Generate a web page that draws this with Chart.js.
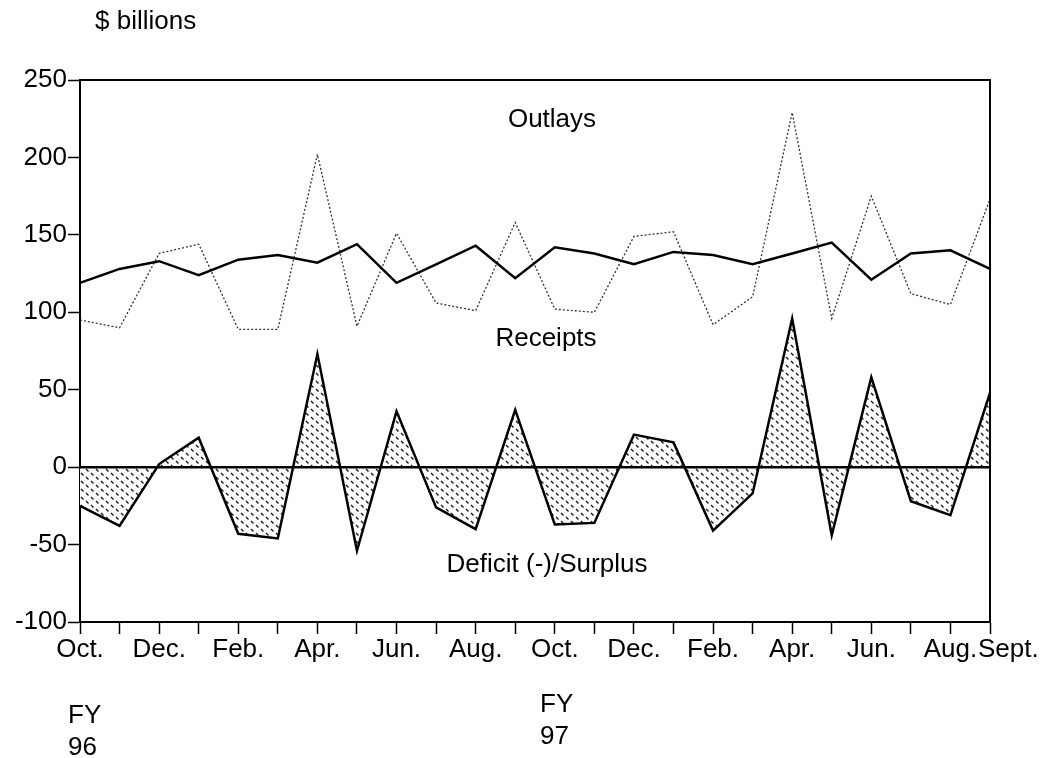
<!DOCTYPE html>
<html>
<head>
<meta charset="utf-8">
<script src="https://cdn.jsdelivr.net/npm/chart.js@4"></script>
<style>
  body { margin: 0; background: #fff; }
  #wrap { width: 1042px; height: 758px; position: relative; }
</style>
</head>
<body>
<div id="wrap"><canvas id="budgetChart"></canvas></div>
<script>
// months, Oct FY96 .. Sept FY97
const months = ['Oct.', 'Nov.', 'Dec.', 'Jan.', 'Feb.', 'Mar.', 'Apr.', 'May', 'Jun.', 'Jul.', 'Aug.', 'Sept.',
                'Oct.', 'Nov.', 'Dec.', 'Jan.', 'Feb.', 'Mar.', 'Apr.', 'May', 'Jun.', 'Jul.', 'Aug.', 'Sept.'];
const outlays  = [119, 128, 133, 124, 134, 137, 132, 144, 119, 131, 143, 122, 142, 138, 131, 139, 137, 131, 138, 145, 121, 138, 140, 128];
const receipts = [95, 90, 138, 144, 89, 89, 202, 91, 151, 106, 101, 158, 102, 100, 149, 152, 92, 110, 229, 96, 175, 112, 105, 173];
const deficit  = [-25, -38, 2, 19, -43, -46, 73, -54, 36, -26, -40, 37, -37, -36, 21, 16, -41, -17, 96, -44, 58, -22, -31, 48];
const yTicks = [-100, -50, 0, 50, 100, 150, 200, 250];

const FONT = '"Liberation Sans", Arial, sans-serif';

// hatch pattern for the deficit/surplus area
function makeHatch() {
    const c = document.createElement('canvas');
    c.width = 10; c.height = 8;
    const g = c.getContext('2d');
    g.fillStyle = '#fff';
    g.fillRect(0, 0, 10, 8);
    g.strokeStyle = '#111';
    g.lineWidth = 1.3;
    g.beginPath();
    g.moveTo(1, 1); g.lineTo(3.5, 3.5);
    g.moveTo(6, 5); g.lineTo(8.5, 7.5);
    g.stroke();
    return g.createPattern(c, 'repeat');
}

const labelsPlugin = {
    id: 'labels',
    afterDatasetsDraw(chart) {
        const ctx = chart.ctx;
        const y = chart.scales.y;
        const a = chart.chartArea;
        // zero line on top of the fill
        ctx.save();
        ctx.strokeStyle = '#000';
        ctx.lineWidth = 2.5;
        ctx.beginPath();
        ctx.moveTo(a.left, y.getPixelForValue(0));
        ctx.lineTo(a.right, y.getPixelForValue(0));
        ctx.stroke();
        ctx.restore();
    },
    afterDraw(chart) {
        const ctx = chart.ctx;
        const x = chart.scales.x, y = chart.scales.y;
        const a = chart.chartArea;
        ctx.save();
        // frame top and right
        ctx.strokeStyle = '#000';
        ctx.lineWidth = 2;
        ctx.beginPath();
        ctx.moveTo(a.left, a.top); ctx.lineTo(a.right, a.top); ctx.lineTo(a.right, a.bottom);
        ctx.stroke();

        ctx.fillStyle = '#000';
        ctx.font = '26px ' + FONT;
        ctx.textAlign = 'center';
        ctx.textBaseline = 'middle';
        const mid = (x.getPixelForValue(11) + x.getPixelForValue(12)) / 2;
        ctx.fillText('Outlays', mid + 17, y.getPixelForValue(224));
        ctx.fillText('Receipts', mid + 11, y.getPixelForValue(83));
        ctx.fillText('Deficit (-)/Surplus', mid + 12, y.getPixelForValue(-63));

        // last month label, nudged right like the original
        ctx.textAlign = 'left';
        ctx.fillText('Sept.', x.getPixelForValue(23) - 12, a.bottom + 28);

        ctx.textBaseline = 'top';
        ctx.fillText('$ billions', 95, 9);
        ctx.fillText('FY', 68, 703);
        ctx.fillText('96', 68, 735);
        ctx.fillText('FY', 540, 692);
        ctx.fillText('97', 540, 724);
        ctx.restore();
    }
};

const ctx = document.getElementById('budgetChart').getContext('2d');
const budgetChart = new Chart(ctx, {
    type: 'line',
    data: {
        labels: months,
        datasets: [
            {
                label: 'Outlays',
                data: outlays,
                borderColor: '#000',
                borderWidth: 2.5,
                pointRadius: 0,
                fill: false,
                tension: 0
            },
            {
                label: 'Receipts',
                data: receipts,
                borderColor: '#333',
                borderWidth: 1.3,
                borderDash: [2, 2],
                pointRadius: 0,
                fill: false,
                tension: 0
            },
            {
                label: 'Deficit (-)/Surplus',
                data: deficit,
                borderColor: '#000',
                borderWidth: 2.5,
                pointRadius: 0,
                backgroundColor: makeHatch(),
                fill: { value: 0 },
                tension: 0
            }
        ]
    },
    options: {
        responsive: true,
        maintainAspectRatio: false,
        animation: false,
        layout: { padding: { left: 0, top: 80, right: 52, bottom: 96 } },
        plugins: {
            legend: { display: false },
            tooltip: { enabled: false },
            filler: { drawTime: 'beforeDatasetsDraw' }
        },
        scales: {
            x: {
                offset: false,
                afterFit(scale) { scale.height = 40; },
                grid: {
                    drawOnChartArea: false,
                    drawTicks: true,
                    tickLength: 12,
                    tickColor: '#000',
                    tickWidth: 1.5
                },
                border: { color: '#000', width: 2 },
                ticks: {
                    autoSkip: false,
                    maxRotation: 0,
                    padding: 0,
                    color: '#000',
                    font: { family: FONT, size: 26 },
                    callback: (v, i) => (i % 2 === 0 && i !== 23) ? months[i] : ''
                }
            },
            y: {
                min: -100,
                max: 250,
                afterFit(scale) { scale.width = 80; },
                afterBuildTicks(scale) { scale.ticks = yTicks.map(v => ({ value: v })); },
                grid: {
                    drawOnChartArea: false,
                    tickLength: 12,
                    tickColor: '#000',
                    tickWidth: 1.5
                },
                border: { color: '#000', width: 2 },
                ticks: {
                    padding: 1,
                    color: '#000',
                    font: { family: FONT, size: 26 }
                }
            }
        }
    },
    plugins: [labelsPlugin]
});
</script>
</body>
</html>
